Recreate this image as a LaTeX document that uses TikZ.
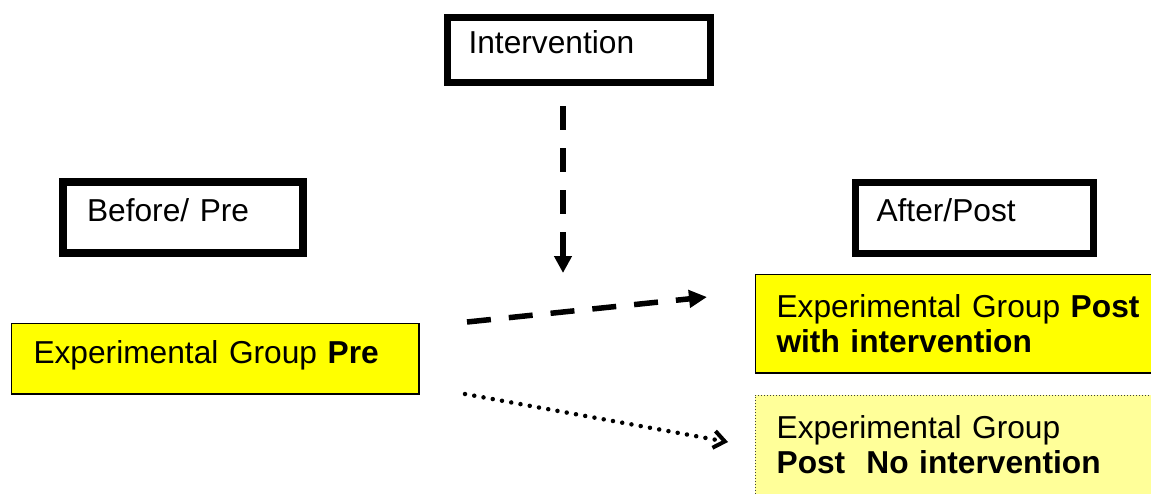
\documentclass[tikz,border=0pt]{standalone}
\usepackage{fontspec}
\setmainfont{Liberation Sans}
\usetikzlibrary{arrows.meta}
\definecolor{preyellow}{HTML}{FFFF00}
\definecolor{paleyellow}{HTML}{FFFF99}
\tikzset{
  stagebox/.style={draw, anchor=north west, align=left, inner ysep=0pt},
  groupbox/.style={stagebox, fill=preyellow, line width=1.5pt},
  flowdash/.style={line width=5.5pt, dash pattern=on 24pt off 18pt},
  flowdot/.style={line width=4.5pt, line cap=round, dash pattern=on 0pt off 9.4pt}
}
\begin{document}
\begin{tikzpicture}[x=1pt,y=-1pt,font=\fontsize{31.7}{35}\selectfont]
            \useasboundingbox (0,0) rectangle (1151,493);
            \node[stagebox,line width=7pt,minimum height=65pt,inner xsep=21.5pt,text width=220pt,text depth=14pt] (interv) at (443.5,13.5) {Intervention};
            \node[stagebox,line width=8pt,minimum height=71pt,inner xsep=24pt,text width=192pt,text depth=14pt] (before) at (59,178) {Before/ Pre};
            \node[stagebox,line width=7pt,minimum height=71pt,inner xsep=21.5pt,text width=195pt,text depth=15pt] (after) at (851.5,178.5) {After/Post};
            \node[groupbox,minimum height=70.5pt,inner xsep=22pt,text width=363.5pt,text depth=12.5pt] (pre) at (10.75,322.75) {Experimental Group \textbf{Pre}};
            \node[groupbox,minimum height=98.5pt,inner xsep=21pt,text width=378pt] (withint) at (754.75,273.75) {Experimental Group \textbf{Post}\\ \textbf{with intervention}};
            \node[stagebox,fill=paleyellow,draw=black!75,line width=1.2pt,dash pattern=on 1.2pt off 1.8pt,minimum height=100pt,inner xsep=21.5pt,text width=377pt] (noint) at (754.5,394.5) {Experimental Group\\ \textbf{Post\ \ No intervention}};
            % arrows
            \coordinate (intA) at (563,106);
            \coordinate (intB) at (563,273);
            \coordinate (withA) at (467,322);
            \coordinate (withB) at (707,297);
            \coordinate (noA) at (465,394);
            \coordinate (noB) at (728,442);
            \draw[flowdash,-{Triangle[length=17pt,width=17pt]}] (intA) -- (intB);
            \draw[flowdash,-{Triangle[length=18pt,width=17pt]}] (withA) -- (withB);
            \draw[flowdot,-{Straight Barb[length=11pt,width=17pt,line width=4pt]}] (noA) -- (noB);
            \end{tikzpicture}
\end{document}
